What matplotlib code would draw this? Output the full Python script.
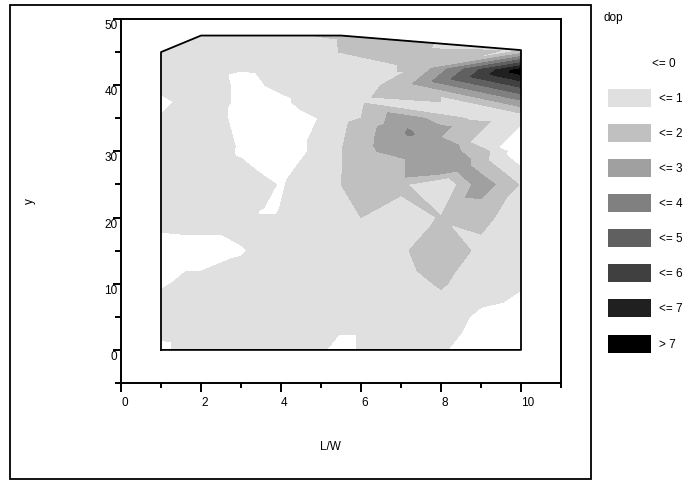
import numpy as np
import matplotlib
matplotlib.use("Agg")
import matplotlib.pyplot as plt
import matplotlib.tri as mtri
from matplotlib.patches import Rectangle

plt.rcParams['font.family'] = ['Liberation Sans', 'DejaVu Sans']

# sample points (L/W, y) and the dop value read at each one
pts_x = [1, 2, 3, 4, 5, 5.8, 6, 7, 8, 9, 10,
         1, 2, 3, 4, 5, 6, 7, 8, 9, 10,
         1, 2, 3, 4, 5, 6, 7, 8, 9, 10,
         1, 2, 3, 4, 5, 6, 7, 8, 9, 10,
         1, 2, 3, 3.7, 4, 5, 6, 7, 8, 9, 10,
         1, 2, 3, 4, 5, 6, 7, 8, 9, 10,
         8.5,
         1, 2, 3, 4, 5, 6, 7, 8, 9, 10,
         1, 2, 3, 4, 5, 6, 7, 8, 9, 10,
         7.2,
         1, 2, 3, 4, 5, 6,
         1, 2, 3, 4, 5, 6, 7,
         7.4, 10,
         1, 2, 3, 4, 5, 6, 7, 10,
         2, 5.5, 7, 8.5]
pts_y = [0, 0, 0, 0, 0, 0, 0, 0, 0, 0, 0,
         5, 5, 5, 5, 5, 5, 5, 5, 5, 5,
         10, 10, 10, 10, 10, 10, 10, 10, 10, 10,
         15, 15, 15, 15, 15, 15, 15, 15, 15, 15,
         20, 20, 20, 20.5, 20, 20, 20, 20, 20, 20, 20,
         25, 25, 25, 25, 25, 25, 25, 25, 25, 25,
         27.5,
         30, 30, 30, 30, 30, 30, 30, 30, 30, 30,
         35, 35, 35, 35, 35, 35, 35, 35, 35, 35,
         33,
         37.5, 37.5, 37.5, 37.5, 37.5, 37.5,
         40, 40, 40, 40, 40, 40, 40,
         42.6, 42.2,
         45, 45, 45, 45, 45, 45, 45, 45.3,
         47.5, 47.5, 46.8, 46.0]
dop = [-0.2, 0.6, 0.6, 0.6, 0.1, -0.5, 0.5, 0.6, 0.1, -0.5, -0.5,
       0.5, 0.6, 0.6, 0.6, 0.6, 0.6, 0.6, 0.5, -0.2, -0.4,
       -0.1, 0.3, 0.5, 0.6, 0.6, 0.6, 0.6, 1.1, 0.5, 0.1,
       -0.5, -0.5, -0.1, 0.6, 0.6, 0.6, 0.85, 1.6, 0.8, 0.6,
       0.4, 0.5, 0.5, -0.1, 0.5, 0.6, 1.0, 0.6, 1.05, 1.2, 0.6,
       0.6, 0.6, 0.4, -0.05, 0.4, 1.6, 1.2, -0.05, 2.6, 0.9,
       2.5,
       0.6, 0.5, -0.1, -0.6, 0.3, 1.6, 2.6, 2.5, 1.5, -0.8,
       0.1, 0.6, -0.3, -0.6, 0.05, 1.0, 2.6, 1.6, 0.6, 0.2,
       3.1,
       -0.4, 0.9, -0.3, -0.2, 0.6, 0.85,
       0.5, 0.8, -0.3, 0.2, 0.6, 0.6, 1.4,
       1.1, 7.6,
       0.5, 0.6, 0.4, 0.5, 0.6, 1.5, 1.5, 0.9,
       0.6, 1.1, 1.6, 0.5]

# outline of the sampled region
hull_x = [1, 10, 10, 5.5, 2, 1, 1]
hull_y = [0, 0, 45.3, 47.5, 47.5, 45, 0]

levels = [-10, 0, 1, 2, 3, 4, 5, 6, 7, 20]
level_labels = ['<= 0', '<= 1', '<= 2', '<= 3', '<= 4', '<= 5', '<= 6', '<= 7', '> 7']
shades = ['#ffffff', '#e0e0e0', '#c0c0c0', '#a0a0a0', '#808080',
          '#606060', '#404040', '#202020', '#000000']

W, H = 694, 481
fig = plt.figure(figsize=(W / 100, H / 100), dpi=100)

def fx(px):
    return px / W

def fy(py):
    return 1 - py / H

# outer frame
fig.patches.append(Rectangle((fx(10), fy(480)), fx(591) - fx(10), fy(6) - fy(480),
                             transform=fig.transFigure, fill=False, lw=1.3, ec='black'))

ax = fig.add_axes([fx(121), fy(384), fx(561) - fx(121), fy(20) - fy(384)])

tri = mtri.Triangulation(pts_x, pts_y)
ax.tricontourf(tri, dop, levels=levels, colors=shades)
ax.plot(hull_x, hull_y, color='black', lw=1.3)

ax.set_xlim(0, 11)
ax.set_ylim(-5, 50)
ax.set_xticks([0, 2, 4, 6, 8, 10])
ax.set_xticks([1, 3, 5, 7, 9, 11], minor=True)
ax.set_yticks([0, 10, 20, 30, 40, 50])
ax.set_yticks([-5, 5, 15, 25, 35, 45], minor=True)
for s in ax.spines.values():
    s.set_linewidth(1.4)
ax.tick_params(axis='x', which='major', length=6.5, width=1.4, labelsize=8.5, pad=3)
ax.tick_params(axis='x', which='minor', length=3.5, width=1.4)
ax.tick_params(axis='y', which='major', length=6, width=1.4, labelsize=8.5, pad=-3.5)
ax.tick_params(axis='y', which='minor', length=4.5, width=1.4)
for lab in ax.get_xticklabels():
    lab.set_horizontalalignment('left')
for lab in ax.get_yticklabels():
    lab.set_verticalalignment('top')

fig.text(fx(330), fy(447), 'L/W', ha='center', va='center', fontsize=8.5)
fig.text(fx(30), fy(201), 'y', ha='center', va='center', fontsize=8.5, rotation=90)

# legend
fig.text(fx(603), fy(18), 'dop', ha='left', va='center', fontsize=8.5)
for i, (lab, col) in enumerate(zip(level_labels, shades)):
    cy = 63.7 + 35.1 * i
    fig.patches.append(Rectangle((fx(608), fy(cy + 9)), fx(651) - fx(608), fy(cy - 9) - fy(cy + 9),
                                 transform=fig.transFigure, fc=col, ec='none'))
    tx = 652 if i == 0 else 659
    fig.text(fx(tx), fy(cy), lab, ha='left', va='center', fontsize=8.5)

fig.savefig('out.png', dpi=100)
